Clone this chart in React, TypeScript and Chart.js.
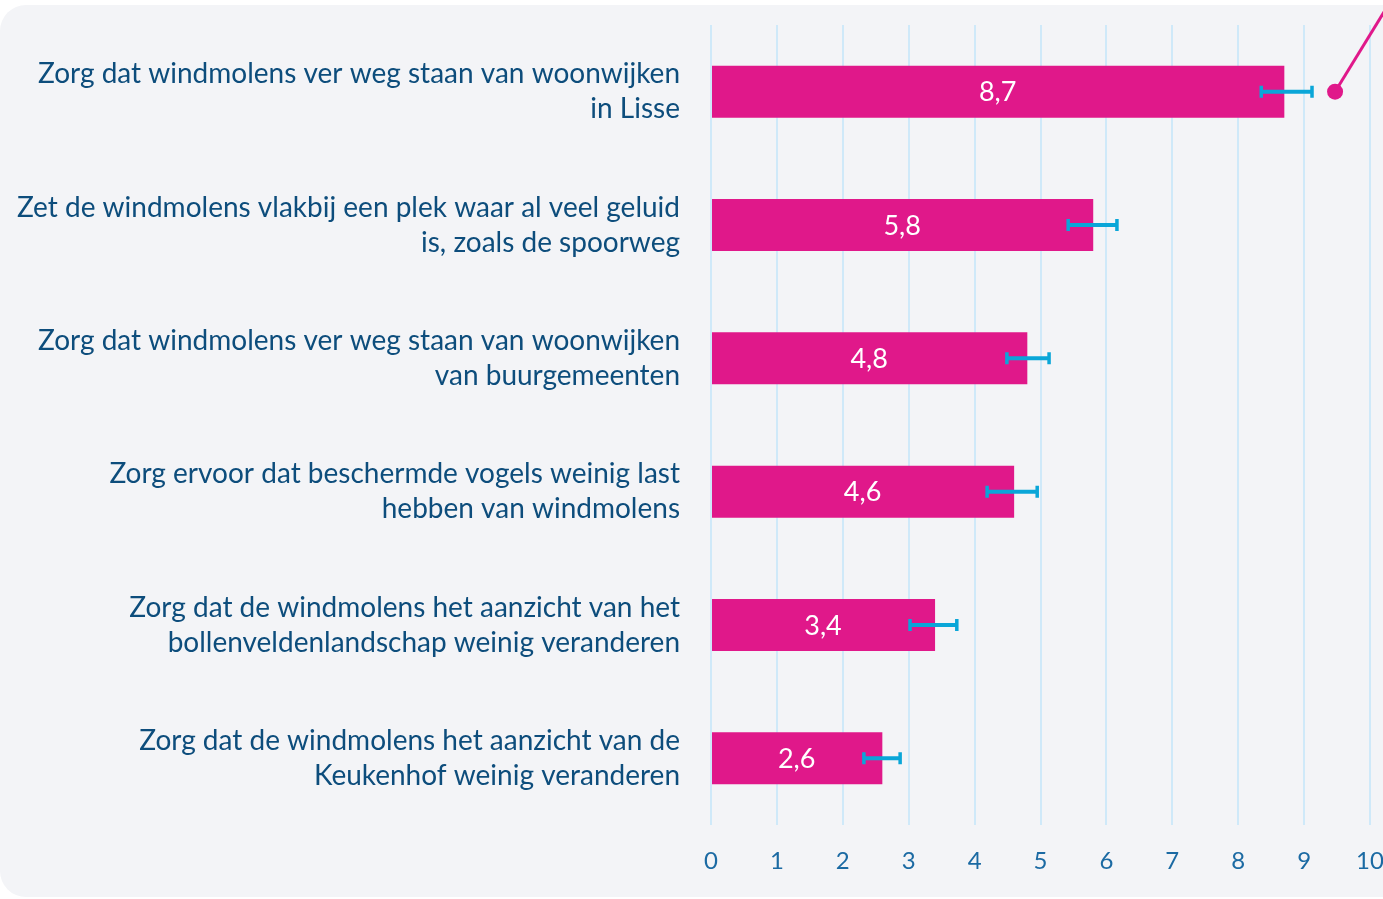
import React, { useEffect, useRef } from "react";
import { Chart, registerables } from "chart.js";

Chart.register(...registerables);

const categories: string[][] = [
  ["Zorg dat windmolens ver weg staan van woonwijken", "in Lisse"],
  ["Zet de windmolens vlakbij een plek waar al veel geluid", "is, zoals de spoorweg"],
  ["Zorg dat windmolens ver weg staan van woonwijken", "van buurgemeenten"],
  ["Zorg ervoor dat beschermde vogels weinig last", "hebben van windmolens"],
  ["Zorg dat de windmolens het aanzicht van het", "bollenveldenlandschap weinig veranderen"],
  ["Zorg dat de windmolens het aanzicht van de", "Keukenhof weinig veranderen"],
];
const values: number[] = [8.7, 5.8, 4.8, 4.6, 3.4, 2.6];
const errLow: number[] = [8.35, 5.42, 4.49, 4.19, 3.02, 2.32];
const errHigh: number[] = [9.12, 6.16, 5.13, 4.95, 3.73, 2.87];
const xTicks: number[] = [0, 1, 2, 3, 4, 5, 6, 7, 8, 9, 10];
const markerValue: number[] = [9.47]; // annotation dot on first category

const FONT = "Lato, 'Source Sans Pro', 'Noto Sans', sans-serif";
const MAGENTA = "#e0188a";
const CYAN = "#0aa6d8";

const overlayPlugin = {
  id: "overlay",
  afterDatasetsDraw(chart: any) {
    const ctx = chart.ctx;
    const x = chart.scales.x;
    const y = chart.scales.y;
    const meta = chart.getDatasetMeta(0);
    ctx.save();
    // value labels
    ctx.fillStyle = "#ffffff";
    ctx.font = `27px ${FONT}`;
    ctx.textAlign = "center";
    ctx.textBaseline = "middle";
    values.forEach((v, i) => {
      const el = meta.data[i];
      const cx = (x.getPixelForValue(0) + x.getPixelForValue(v)) / 2;
      ctx.fillText(v.toFixed(1).replace(".", ","), cx, el.y + 1);
    });
    // error bars
    ctx.strokeStyle = CYAN;
    ctx.lineCap = "butt";
    values.forEach((_, i) => {
      const el = meta.data[i];
      const x1 = x.getPixelForValue(errLow[i]);
      const x2 = x.getPixelForValue(errHigh[i]);
      ctx.lineWidth = 4;
      ctx.beginPath();
      ctx.moveTo(x1, el.y);
      ctx.lineTo(x2, el.y);
      ctx.stroke();
      ctx.lineWidth = 3.5;
      ctx.beginPath();
      ctx.moveTo(x1, el.y - 6);
      ctx.lineTo(x1, el.y + 6);
      ctx.moveTo(x2, el.y - 6);
      ctx.lineTo(x2, el.y + 6);
      ctx.stroke();
    });
    // annotation
    const dx = x.getPixelForValue(markerValue[0]);
    const dy = y.getPixelForValue(0);
    ctx.strokeStyle = MAGENTA;
    ctx.lineWidth = 3;
    ctx.beginPath();
    ctx.moveTo(dx, dy);
    ctx.lineTo(dx + 70, dy - 70 * (75 / 46));
    ctx.stroke();
    ctx.fillStyle = MAGENTA;
    ctx.beginPath();
    ctx.arc(dx, dy, 8, 0, Math.PI * 2);
    ctx.fill();
    ctx.restore();
  },
};

export default function App() {
  const ref = useRef<HTMLCanvasElement | null>(null);
  useEffect(() => {
    document.body.style.margin = "0";
    if (!ref.current) return;
    const chart = new Chart(ref.current, {
      type: "bar",
      data: {
        labels: categories,
        datasets: [
          {
            data: values,
            backgroundColor: MAGENTA,
            borderWidth: 0,
            barPercentage: 0.39,
            categoryPercentage: 1,
          },
        ],
      },
      options: {
        indexAxis: "y",
        responsive: false,
        animation: false,
        layout: { padding: { top: 25, left: 0, right: 13, bottom: 0 } },
        plugins: { legend: { display: false }, tooltip: { enabled: false } },
        scales: {
          x: {
            min: 0,
            max: 10,
            afterBuildTicks: (scale: any) => {
              scale.ticks = xTicks.map((v) => ({ value: v }));
            },
            afterFit: (scale: any) => {
              scale.height = 74;
              scale.paddingLeft = 0;
              scale.paddingRight = 0;
            },
            grid: { color: "#cfe9f9", lineWidth: 2, drawTicks: false },
            border: { display: false },
            ticks: {
              color: "#1b6aa3",
              font: { family: FONT, size: 24 },
              padding: 22,
              maxRotation: 0,
            },
          },
          y: {
            afterFit: (scale: any) => {
              scale.width = 711;
              scale.paddingTop = 0;
              scale.paddingBottom = 0;
            },
            grid: { display: false },
            border: { display: false },
            ticks: {
              color: "#0d4d7c",
              font: { family: FONT, size: 28, lineHeight: 1.25 },
              padding: 23,
            },
          },
        },
      },
      plugins: [overlayPlugin],
    });
    return () => chart.destroy();
  }, []);
  return (
    <div style={{ position: "relative", width: 1383, height: 899, overflow: "hidden", background: "#ffffff" }}>
      <div
        style={{
          position: "absolute",
          left: 0,
          top: 5,
          width: 1450,
          height: 892,
          borderRadius: 26,
          background: "#f3f4f7",
        }}
      />
      <canvas ref={ref} width={1383} height={899} style={{ position: "absolute", left: 0, top: 0 }} />
    </div>
  );
}
